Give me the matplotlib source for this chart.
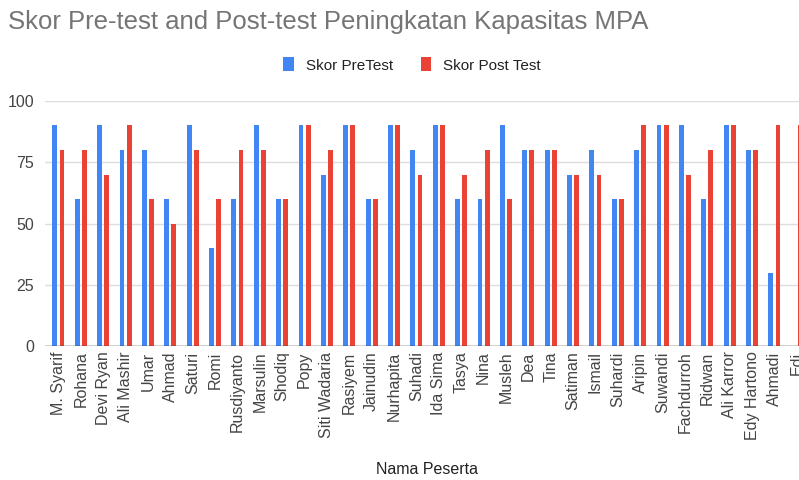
import matplotlib.pyplot as plt
import matplotlib as mpl
import numpy as np

mpl.rcParams['font.family'] = ['Liberation Sans', 'DejaVu Sans']

names = ['M. Syarif', 'Rohana', 'Devi Ryan', 'Ali Mashir', 'Umar', 'Ahmad',
         'Saturi', 'Romi', 'Rusdiyanto', 'Marsulin', 'Shodiq', 'Popy',
         'Siti Wadaria', 'Rasiyem', 'Jainudin', 'Nurhapita', 'Suhadi',
         'Ida Sima', 'Tasya', 'Nina', 'Musleh', 'Dea', 'Tina', 'Satiman',
         'Ismail', 'Suhardi', 'Aripin', 'Suwandi', 'Fachdurroh', 'Ridwan',
         'Ali Karror', 'Edy Hartono', 'Ahmadi', 'Edi']
pre_test = [90, 60, 90, 80, 80, 60, 90, 40, 60, 90, 60, 90, 70, 90, 60, 90,
            80, 90, 60, 60, 90, 80, 80, 70, 80, 60, 80, 90, 90, 60, 90, 80,
            30, 0]
post_test = [80, 80, 70, 90, 60, 50, 80, 60, 80, 80, 60, 90, 80, 90, 60, 90,
             70, 90, 70, 80, 60, 80, 80, 70, 70, 60, 90, 90, 70, 80, 90, 80,
             90, 90]

blue = '#4285f4'
red = '#ea4335'
grey = '#444444'

fig = plt.figure(figsize=(7.99, 4.8), dpi=100)
# plot area runs past the right edge, like the cropped screenshot
ax = fig.add_axes([45 / 799, 134 / 480, 34 * 22.375 / 799, 245 / 480])

x = np.arange(len(names))
w = 0.22
ax.bar(x - 0.16, pre_test, w, color=blue, label='Skor PreTest', zorder=3)
ax.bar(x + 0.16, post_test, w, color=red, label='Skor Post Test', zorder=3)

ax.set_xlim(-0.6, len(names) - 0.6)
ax.set_ylim(0, 100)
ax.set_yticks([0, 25, 50, 75, 100])
ax.yaxis.grid(True, color='#dddddd', linewidth=1, zorder=0)
ax.axhline(0, color='#333333', linewidth=1, zorder=4)
for s in ax.spines.values():
    s.set_visible(False)
ax.tick_params(axis='both', length=0, colors=grey, labelsize=11.5)
ax.tick_params(axis='y', pad=8)
ax.tick_params(axis='x', pad=4)
ax.set_xticks(x)
ax.set_xticklabels(names, rotation=90, ha='center', va='top')

fig.text(8 / 799, 1 - 22 / 480, 'Skor Pre-test and Post-test Peningkatan Kapasitas MPA',
         fontsize=18.5, color='#757575', ha='left', va='center')
fig.text(427 / 799, 1 - 470 / 480, 'Nama Peserta', fontsize=11.5, color='#222222',
         ha='center', va='center')
fig.legend(loc='center', bbox_to_anchor=(412 / 799, 1 - 65 / 480), ncol=2,
           frameon=False, fontsize=11, handlelength=0.7, handleheight=1.0,
           handletextpad=0.8, columnspacing=1.8, labelcolor='#222222')

fig.savefig('out.png', dpi=100)
